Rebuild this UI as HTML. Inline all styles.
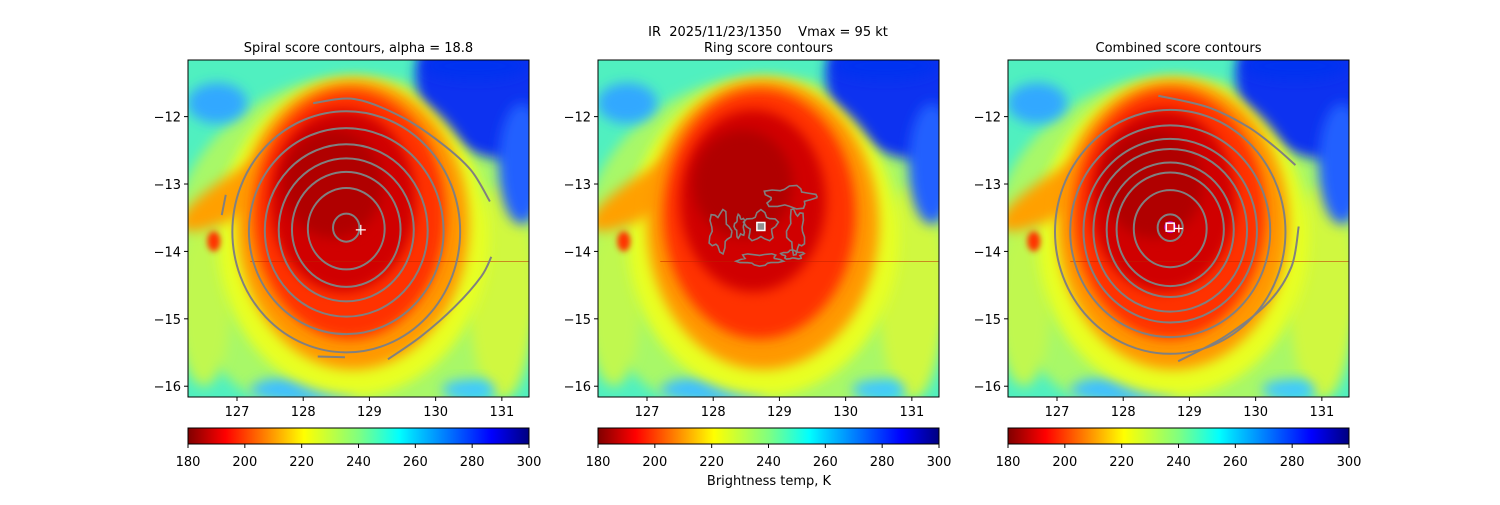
<!DOCTYPE html>
<html><head><meta charset="utf-8"><style>
body{margin:0;background:#fff;}
svg text{font-family:"DejaVu Sans","Liberation Sans",sans-serif;fill:#000;white-space:pre;}
</style></head><body>
<svg id="fig" width="1500" height="500" xmlns="http://www.w3.org/2000/svg">
<defs>
<filter id="blur8" x="-50%" y="-50%" width="200%" height="200%"><feGaussianBlur stdDeviation="6"/></filter>
<filter id="blur4" x="-50%" y="-50%" width="200%" height="200%"><feGaussianBlur stdDeviation="3"/></filter>
<linearGradient id="jetr" x1="0" x2="1" y1="0" y2="0">
<stop offset="0" stop-color="#800000"/><stop offset="0.11" stop-color="#ff0000"/>
<stop offset="0.34" stop-color="#ffff00"/><stop offset="0.5" stop-color="#80ff80"/>
<stop offset="0.62" stop-color="#00ffff"/><stop offset="0.66" stop-color="#00d4ff"/>
<stop offset="0.89" stop-color="#0000ff"/><stop offset="1" stop-color="#000080"/>
</linearGradient>
</defs>
<text x="768" y="36" font-size="13" text-anchor="middle" xml:space="preserve">IR  2025/11/23/1350    Vmax = 95 kt</text>
<g id="panels"></g>
<text x="769" y="485" font-size="13" text-anchor="middle">Brightness temp, K</text>
</svg>
<script>
const NS="http://www.w3.org/2000/svg";
const xTicks=[127,128,129,130,131];
const yTicks=[-12,-13,-14,-15,-16];
const cbTicks=[180,200,220,240,260,280,300];
const panelTitles=["Spiral score contours, alpha = 18.8","Ring score contours","Combined score contours"];
const spiralCenter=[128.65,-13.64];
const spiralRadii=[0.2,0.58,0.82,1.02,1.23,1.47,1.72];
const combinedCenter=[128.71,-13.64];
const combinedRadii=[0.19,0.55,0.81,0.96,1.16,1.31,1.51,1.74];
// open contour arcs [lon..], [lat..]
const spiralArcLon=[[128.15,128.78,129.48,130.08,130.53,130.82],[129.28,129.78,130.29,130.69,130.84],[128.22,128.63],[126.83,126.77]];
const spiralArcLat=[[-11.80,-11.74,-12.00,-12.39,-12.79,-13.26],[-15.60,-15.26,-14.82,-14.37,-14.08],[-15.56,-15.57],[-13.16,-13.46]];
const combArcLon=[[128.53,129.28,129.88,130.29,130.60],[128.83,129.54,130.19,130.54,130.65]];
const combArcLat=[[-11.69,-11.86,-12.15,-12.45,-12.72],[-15.63,-15.26,-14.76,-14.23,-13.63]];
const bestCenterSpiral=[128.87,-13.68];
const bestCenterRing=[128.72,-13.63];
const bestCenterComb=[128.71,-13.64];
// ring contour blobs [lon, lat, rlon, rlat]
const ringBlobs=[[128.72,-13.63,0.22,0.2],[129.15,-13.2,0.35,0.15],[128.1,-13.7,0.15,0.28],[128.7,-14.12,0.3,0.08],[129.25,-13.7,0.12,0.3],[128.4,-13.63,0.07,0.15],[129.2,-14.05,0.15,0.06]];
const X0=[188,598,1008], PW=341, PT=60, PH=337;
const LON0=126.26, LON1=131.41, LAT0=-11.16, LAT1=-16.16;
function el(t,a,p){const e=document.createElementNS(NS,t);for(const k in a)e.setAttribute(k,a[k]);if(p)p.appendChild(e);return e;}
function smooth(P){if(P.length<3)return 'M'+P.map(p=>p.join(',')).join('L');let d='M'+P[0].join(',');
 for(let i=0;i<P.length-1;i++){const p0=P[i-1]||P[i],p1=P[i],p2=P[i+1],p3=P[i+2]||p2;
  d+=`C${(p1[0]+(p2[0]-p0[0])/6).toFixed(1)},${(p1[1]+(p2[1]-p0[1])/6).toFixed(1)} ${(p2[0]-(p3[0]-p1[0])/6).toFixed(1)},${(p2[1]-(p3[1]-p1[1])/6).toFixed(1)} ${p2[0].toFixed(1)},${p2[1].toFixed(1)}`;}
 return d;}
const root=document.getElementById('panels');
X0.forEach((x0,pi)=>{
 const sx=v=>x0+(v-LON0)/(LON1-LON0)*PW;
 const sy=v=>PT+(v-LAT0)/(LAT1-LAT0)*PH;
 const kx=PW/(LON1-LON0), ky=PH/(LAT0-LAT1);
 const g=el('g',{},root);
 
 
 const cp=el('clipPath',{id:'cp'+pi},g);el('rect',{x:x0,y:PT,width:PW,height:PH},cp);
 const img=el('g',{'clip-path':'url(#cp'+pi+')'},g);
 
 
 el('rect',{x:x0,y:PT,width:PW,height:PH,fill:'#50f0c0'},img);
 const ell=(lon,lat,rl,rt,c,f,rot)=>el('ellipse',{cx:sx(lon),cy:sy(lat),rx:rl*kx,ry:rt*ky,fill:c,filter:'url(#'+(f||'blur8')+')',transform:rot?`rotate(${rot} ${sx(lon)} ${sy(lat)})`:''},img);
 ell(128.8,-14.0,2.8,2.6,'#a8f868');
 ell(126.5,-14.8,0.4,1.2,'#c0f850');ell(131.0,-14.6,0.5,1.6,'#d0f840');
 ell(126.7,-11.8,0.45,0.3,'#30a8ff');
 ell(128.0,-16.05,0.8,0.2,'#40c0ff');ell(130.5,-16.05,0.4,0.15,'#40c8ff');
 ell(131.2,-11.4,1.5,1.25,'#0830f0');ell(131.3,-12.7,0.35,0.9,'#2060ff');ell(130.6,-11.25,0.8,0.2,'#0030f0');
 ell(128.75,-13.8,2.05,2.35,'#e8ff20');
 ell(127.1,-13.1,1.1,0.3,'#ffa000','blur8',-30);
 ell(128.75,-13.6,1.75,2.15,'#ff9800');
 ell(128.7,-13.45,1.45,1.85,'#ff3000');
 ell(128.6,-13.25,1.1,1.35,'#d00000');
 ell(128.45,-13.0,0.75,0.8,'#b00000');
 ell(126.65,-13.85,0.1,0.15,'#ff3000','blur4');
 el('line',{x1:sx(127.2),x2:sx(131.4),y1:sy(-14.15),y2:sy(-14.15),stroke:'#c02000','stroke-width':1,opacity:0.5},img);
 const contours=el('g',{fill:'none',stroke:'#808080','stroke-width':2,'clip-path':'url(#cp'+pi+')'},g);
 
 
 if(pi===0||pi===2){
  const C=pi===0?spiralCenter:combinedCenter, R=pi===0?spiralRadii:combinedRadii;
  R.forEach((r,i)=>{const c=el('ellipse',{cx:sx(C[0]),cy:sy(C[1]-0.04*r),rx:r*kx,ry:r*ky*1.04},contours);
   });
  const AL=pi===0?spiralArcLon:combArcLon, AT=pi===0?spiralArcLat:combArcLat;
  AL.forEach((lons,i)=>{const P=lons.map((v,j)=>[sx(v),sy(AT[i][j])]);
   const p=el('path',{d:smooth(P),'stroke-linejoin':'round'},contours);});
 } else {
  ringBlobs.forEach((b,i)=>{let d='';for(let a=0;a<=360;a+=15){const t=a*Math.PI/180,w=1+0.25*Math.sin(5*t+i);
   d+=(a===0?'M':'L')+sx(b[0]+b[2]*w*Math.cos(t)).toFixed(1)+','+sy(b[1]+b[3]*w*Math.sin(t)).toFixed(1);}
   const p=el('path',{d:d,'stroke-width':1.6},contours);});
 }
 if(pi===0){const[a,b]=bestCenterSpiral;const m=el('path',{d:`M${sx(a)-5},${sy(b)}h10M${sx(a)},${sy(b)-5}v10`,stroke:'#fff','stroke-width':1.2},g);}
 if(pi===1){const[a,b]=bestCenterRing;const m=el('rect',{x:sx(a)-4,y:sy(b)-4,width:8,height:8,fill:'#909090',stroke:'#fff','stroke-width':1.5},g);}
 if(pi===2){const[a,b]=bestCenterComb;el('circle',{cx:sx(a),cy:sy(b),r:6,fill:'#c000c0'},g);const m=el('rect',{x:sx(a)-4,y:sy(b)-4,width:8,height:8,fill:'#e02020',stroke:'#fff','stroke-width':1.5},g);
  const p=el('path',{d:`M${sx(a+0.13)-4},${sy(b-0.02)}h8M${sx(a+0.13)},${sy(b-0.02)-4}v8`,stroke:'#fff','stroke-width':1.2},g);}
 el('rect',{x:x0,y:PT,width:PW,height:PH,fill:'none',stroke:'#000','stroke-width':1},g);
 const t=el('text',{x:x0+PW/2,y:52,'font-size':13,'text-anchor':'middle'},g);t.textContent=panelTitles[pi];
 
 xTicks.forEach(v=>{el('line',{x1:sx(v),x2:sx(v),y1:PT+PH,y2:PT+PH+4,stroke:'#000'},g);
  const l=el('text',{x:sx(v),y:PT+PH+19,'font-size':13,'text-anchor':'middle'},g);l.textContent=v;
  });
 yTicks.forEach(v=>{el('line',{x1:x0-4,x2:x0,y1:sy(v),y2:sy(v),stroke:'#000'},g);
  const l=el('text',{x:x0-7,y:sy(v)+5,'font-size':13,'text-anchor':'end'},g);l.textContent='\u2212'+Math.abs(v);
  });
 const cb=el('rect',{x:x0,y:428,width:PW,height:16,fill:'url(#jetr)',stroke:'#000','stroke-width':1},g);
 
 const cx=v=>x0+(v-180)/120*PW;
 cbTicks.forEach(v=>{el('line',{x1:cx(v),x2:cx(v),y1:444,y2:448,stroke:'#000'},g);
  const l=el('text',{x:cx(v),y:466,'font-size':13,'text-anchor':'middle'},g);l.textContent=v;
  });
});
</script>
</body></html>
